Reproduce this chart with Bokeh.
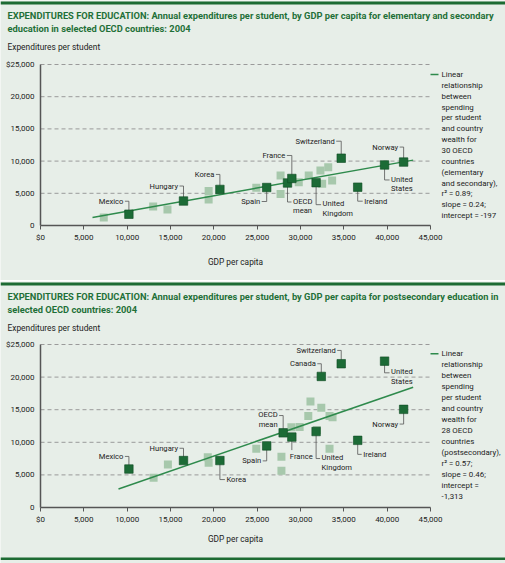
from bokeh.plotting import figure
from bokeh.models import Range1d, FixedTicker, Label, BoxAnnotation
from bokeh.layouts import column
from bokeh.core.properties import value
from bokeh.embed import file_html
from bokeh.resources import INLINE

# ---------------- data ----------------
x_ticks = [0, 5000, 10000, 15000, 20000, 25000, 30000, 35000, 40000, 45000]
x_tick_labels = ["$0", "5,000", "10,000", "15,000", "20,000", "25,000", "30,000", "35,000", "40,000", "45,000"]
y_ticks = [0, 5000, 10000, 15000, 20000, 25000]
y_tick_labels = ["0", "5,000", "10,000", "15,000", "20,000", "$25,000"]

# Panel 1: elementary and secondary
es_title = ["EXPENDITURES FOR EDUCATION: Annual expenditures per student, by GDP per capita for elementary and secondary",
            "education in selected OECD countries: 2004"]
es_names = ["Mexico", "Hungary", "Korea", "Spain", "OECD\nmean", "France", "United\nKingdom",
            "Switzerland", "Ireland", "United\nStates", "Norway"]
es_named_gdp = [10200, 16500, 20700, 26100, 28500, 29000, 31800, 34700, 36600, 39700, 41900]
es_named_exp = [1750, 3800, 5600, 5900, 6600, 7300, 6650, 10450, 5950, 9400, 9850]
es_other_gdp = [7300, 13000, 14650, 19400, 19400, 24900, 27700, 27700, 29800, 30950, 32300, 33200, 33650, 32500]
es_other_exp = [1250, 2950, 2500, 5350, 4050, 5850, 7750, 4900, 6700, 7750, 8550, 9050, 7000, 6500]
es_fit_gdp = [6000, 43000]
es_fit_exp = [1250, 10150]
es_legend = ["Linear", "relationship", "between", "spending", "per student", "and country", "wealth for",
             "30 OECD", "countries", "(elementary", "and secondary),", "r² = 0.89;", "slope = 0.24;",
             "intercept = -197"]

# Panel 2: postsecondary
ps_title = ["EXPENDITURES FOR EDUCATION: Annual expenditures per student, by GDP per capita for postsecondary education in",
            "selected OECD countries: 2004"]
ps_names = ["Mexico", "Hungary", "Korea", "Spain", "OECD\nmean", "France", "United\nKingdom", "Canada",
            "Switzerland", "United\nStates", "Norway", "Ireland"]
ps_named_gdp = [10200, 16500, 20700, 26100, 28000, 29000, 31800, 32400, 34700, 39700, 41900, 36600]
ps_named_exp = [5900, 7200, 7200, 9450, 11450, 10800, 11650, 20100, 22050, 22450, 15050, 10300]
ps_other_gdp = [13050, 14700, 19300, 19400, 24900, 27800, 27800, 28950, 29900, 30900, 31150, 32400, 31900,
                33350, 33700, 33350]
ps_other_exp = [4550, 6600, 7700, 6850, 9000, 7800, 5650, 12300, 12350, 14050, 16250, 15300, 11900,
                14050, 13850, 9000]
ps_fit_gdp = [9000, 43000]
ps_fit_exp = [2850, 18450]
ps_legend = ["Linear", "relationship", "between", "spending", "per student", "and country", "wealth for",
             "28 OECD", "countries", "(postsecondary),", "r² = 0.57;", "slope = 0.46;", "intercept =",
             "-1,313"]

y_title = "Expenditures per student"
x_title = "GDP per capita"

# ---------------- styles / layout ----------------
FONT = "Roboto"
W = 505
L, FW = 40, 390
XMAX, YMAX = 45000, 25000
BG = "#e7eee8"
GREEN = "#1d6b33"
TITLE_C = "#1f7038"
DARK = "#1c6b36"
DARK_EDGE = "#0e4a22"
LIGHT = "#a7c8ac"
FIT_C = "#2e8a4c"
TXT = "#222222"
AXIS_C = "#555555"

# label geometry per named point: (elbow dy, elbow dx, label dx, label dy, align), pixels
es_lab = [(-13, -4, -5.5, -13, "right"), (-15, -4, -5.5, -15, "right"), (-15, -4, -5.5, -15, "right"),
          (14, -5, -6.5, 14, "right"), (19, 4, 5.5, 22.8, "left"), (-23, -5, -6.5, -23, "right"),
          (22, 5, 6.5, 25.8, "left"), (-17, -5, -6.5, -17, "right"), (14, 5, 6.5, 14, "left"),
          (15, 5, 6.5, 18.8, "left"), (-15, -4, -5.5, -15, "right")]
ps_lab = [(-12.6, -4, -5.5, -12.6, "right"), (-12.3, -4, -5.5, -12.3, "right"), (19, 5, 6.5, 19, "left"),
          (15, -4, -5.5, 15, "right"), (-17.3, -4, -5.5, -13.5, "right"), (13, 0, -2, 19, "left"),
          (27, 4, 5.5, 30.8, "left"), (-12.7, -4, -5.5, -12.7, "right"), (-13.3, -4, -5.5, -13.3, "right"),
          (11.7, 5, 6.5, 15.5, "left"), (14.7, -4, -5.5, 14.7, "right"), (14, 4, 5.5, 14, "left")]


def panel(height, fbot, fh, titles, legend, names, nx, ny, labs, ox, oy, fx_, fy_, gdp_standoff,
          legend_y0, legend_dy, bottom_rule=None):
    X = lambda px: (px - L) / FW * XMAX
    Y = lambda py: (fbot - py) / fh * YMAX
    sx = XMAX / FW
    sy = YMAX / fh

    p = figure(width=W, height=height, x_range=Range1d(X(0), X(W)), y_range=Range1d(Y(height), Y(0)),
               output_backend="svg", toolbar_location=None, min_border=0,
               background_fill_color=BG, border_fill_color=BG, outline_line_color=None)

    # axes (fixed at the data origin)
    p.xaxis.fixed_location = 0
    p.yaxis.fixed_location = 0
    p.xaxis.bounds = (x_ticks[0], x_ticks[-1])
    p.yaxis.bounds = (y_ticks[0], y_ticks[-1])
    p.xaxis.ticker = FixedTicker(ticks=x_ticks)
    p.xaxis.major_label_overrides = dict(zip(x_ticks, x_tick_labels))
    p.yaxis.ticker = FixedTicker(ticks=y_ticks)
    p.yaxis.major_label_overrides = dict(zip(y_ticks, y_tick_labels))
    for ax in (p.xaxis[0], p.yaxis[0]):
        ax.axis_line_color = AXIS_C
        ax.axis_line_width = 1.5
        ax.minor_tick_line_color = None
        ax.major_label_text_font = FONT
        ax.major_label_text_font_size = "8px"
        ax.major_label_text_color = TXT
    p.xaxis.major_tick_line_color = AXIS_C
    p.xaxis.major_tick_out = 4
    p.xaxis.major_tick_in = 0
    p.xaxis.major_label_standoff = 3
    p.xaxis.axis_label = x_title
    p.xaxis.axis_label_text_font = FONT
    p.xaxis.axis_label_text_font_size = "8.3px"
    p.xaxis.axis_label_text_font_style = "normal"
    p.xaxis.axis_label_text_color = TXT
    p.xaxis.axis_label_standoff = gdp_standoff
    p.yaxis.major_tick_line_color = None
    p.yaxis.major_tick_out = 0
    p.yaxis.major_tick_in = 0
    p.yaxis.major_label_standoff = 6

    p.xgrid.visible = False
    p.ygrid.visible = False
    grid_y = y_ticks[1:]
    p.segment(x0=[x_ticks[0]] * len(grid_y), x1=[x_ticks[-1]] * len(grid_y), y0=grid_y, y1=grid_y,
              line_color="#9a9a9a", line_dash="4 3", line_width=1)

    # marks
    p.scatter(ox, oy, marker="square", size=8, fill_color=LIGHT, line_color=None)
    p.line(fx_, fy_, line_color=FIT_C, line_width=1.5)

    xs, ys = [], []
    for x, y, (ey, ex, lx, ly, al) in zip(nx, ny, labs):
        xs.append([x, x, x + ex * sx])
        ys.append([y, y - ey * sy, y - ey * sy])
    p.multi_line(xs, ys, line_color="#555555", line_width=0.8)
    p.scatter(nx, ny, marker="square", size=8.5, fill_color=DARK, line_color=DARK_EDGE, line_width=0.6)

    for align in ("left", "right"):
        idx = [i for i, l in enumerate(labs) if l[4] == align]
        p.text(x=[nx[i] for i in idx], y=[ny[i] for i in idx], text=[names[i] for i in idx],
               x_offset=[labs[i][2] for i in idx], y_offset=[labs[i][3] for i in idx],
               text_align=align, text_baseline="middle", text_font=value(FONT),
               text_font_size="7.6px", text_line_height=1.05, text_color=TXT)

    # decorations
    p.add_layout(BoxAnnotation(left=X(0), right=X(W), top=Y(1), bottom=Y(4), fill_color=GREEN,
                               fill_alpha=1, line_color=None))
    if bottom_rule is not None:
        p.add_layout(BoxAnnotation(left=X(0), right=X(W), top=Y(bottom_rule), bottom=Y(bottom_rule + 2.5),
                                   fill_color=GREEN, fill_alpha=1, line_color=None))
    for i, t in enumerate(titles):
        p.add_layout(Label(x=X(7), y=Y(14.5 + 13 * i), text=t, text_font=FONT, text_font_size="9.3px",
                           text_font_style="bold", text_color=TITLE_C, text_baseline="middle"))
    p.add_layout(Label(x=X(7), y=Y(46), text=y_title, text_font=FONT, text_font_size="8.4px",
                       text_color=TXT, text_baseline="middle"))
    p.add_layout(BoxAnnotation(left=X(430), right=X(438), top=Y(legend_y0 - 0.75),
                               bottom=Y(legend_y0 + 0.75), fill_color=FIT_C, fill_alpha=1, line_color=None))
    for i, t in enumerate(legend):
        p.add_layout(Label(x=X(441), y=Y(legend_y0 + legend_dy * i), text=t, text_font=FONT,
                           text_font_size="7.9px", text_color=TXT, text_baseline="middle"))
    return p


top = panel(280, 225, 161, es_title, es_legend, es_names, es_named_gdp, es_named_exp, es_lab,
            es_other_gdp, es_other_exp, es_fit_gdp, es_fit_exp, 12, 74, 10.85)
bottom = panel(282, 226, 163, ps_title, ps_legend, ps_names, ps_named_gdp, ps_named_exp, ps_lab,
               ps_other_gdp, ps_other_exp, ps_fit_gdp, ps_fit_exp, 7, 72.3, 10.95, bottom_rule=276)

layout = column(top, bottom, spacing=1)
open("out.html", "w").write(file_html(layout, INLINE))
